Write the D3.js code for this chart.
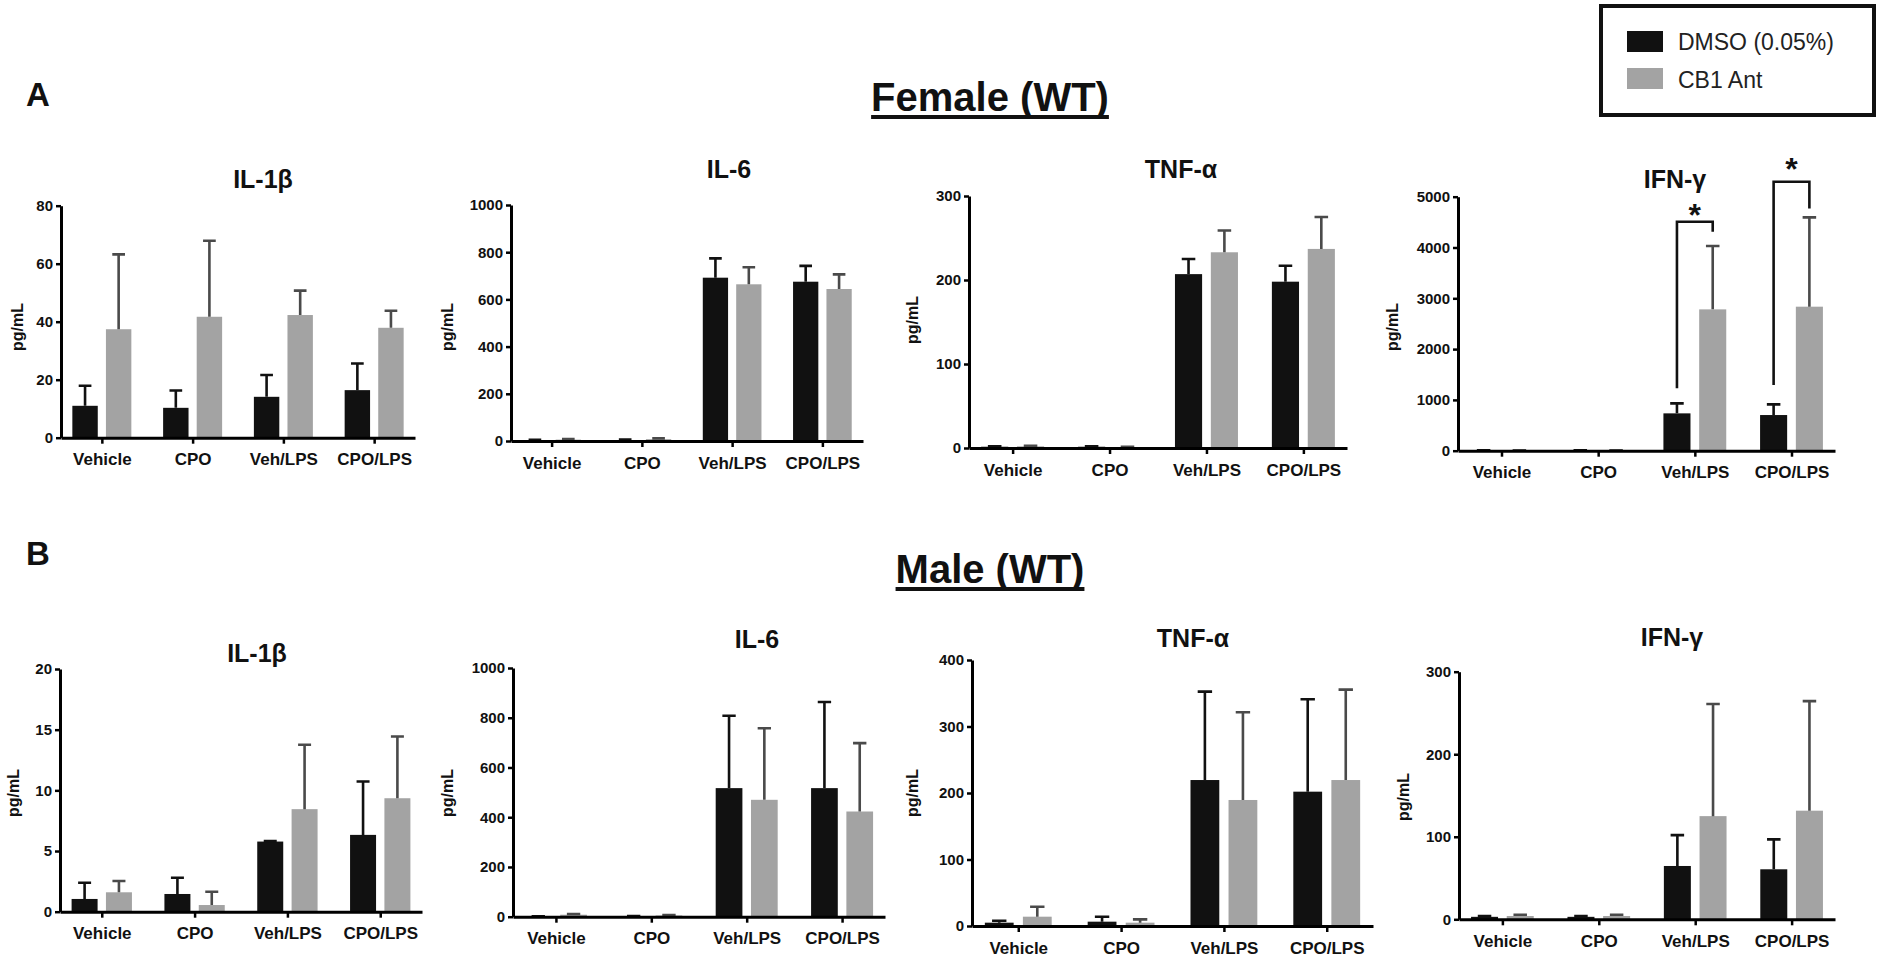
<!DOCTYPE html>
<html><head><meta charset="utf-8">
<script src="https://cdn.jsdelivr.net/npm/d3@7"></script>
<style>
body{margin:0;background:#fff}
svg{display:block}
text{font-family:"Liberation Sans",Arial,Helvetica,sans-serif}
</style>
</head><body>
<svg id="chart" width="1877" height="961"></svg>
<script>
// ---------------- DATA ----------------
const categories = ["Vehicle", "CPO", "Veh/LPS", "CPO/LPS"];
const seriesNames = ["DMSO (0.05%)", "CB1 Ant"];
const cytokines = ["IL-1β", "IL-6", "TNF-α", "IFN-γ"];
const groupTitles = ["Female (WT)", "Male (WT)"];
const groupLetters = ["A", "B"];

// Female (WT) – means and SEM
const femIL1bDMSO = [11.0, 10.3, 14.1, 16.4];
const femIL1bDMSOsem = [6.9, 6.0, 7.5, 9.2];
const femIL1bCB1 = [37.4, 41.7, 42.3, 37.9];
const femIL1bCB1sem = [25.8, 26.2, 8.4, 5.9];

const femIL6DMSO = [3, 4, 692, 675];
const femIL6DMSOsem = [2, 2, 82, 67];
const femIL6CB1 = [6, 8, 664, 644];
const femIL6CB1sem = [2, 3, 72, 62];

const femTNFDMSO = [1.5, 1.5, 207, 198];
const femTNFDMSOsem = [0.5, 0.5, 18, 19];
const femTNFCB1 = [2, 1, 233, 237];
const femTNFCB1sem = [0.5, 0.3, 26, 38];

const femIFNDMSO = [5, 5, 735, 702];
const femIFNDMSOsem = [2, 2, 197, 210];
const femIFNCB1 = [5, 5, 2782, 2835];
const femIFNCB1sem = [2, 2, 1247, 1758];

// Male (WT) – means and SEM
const malIL1bDMSO = [1.05, 1.46, 5.78, 6.33];
const malIL1bDMSOsem = [1.34, 1.34, 0.05, 4.4];
const malIL1bCB1 = [1.6, 0.55, 8.45, 9.35];
const malIL1bCB1sem = [0.93, 1.1, 5.31, 5.09];

const malIL6DMSO = [1, 2, 517, 517];
const malIL6DMSOsem = [1, 1, 291, 346];
const malIL6CB1 = [8, 5, 470, 423];
const malIL6CB1sem = [3, 2, 288, 275];

const malTNFDMSO = [5, 6.5, 219.5, 202];
const malTNFDMSOsem = [3, 7.5, 133, 139];
const malTNFCB1 = [14, 5, 189.5, 219.5];
const malTNFCB1sem = [15, 5, 132, 136];

const malIFNDMSO = [3, 3, 64.6, 60.6];
const malIFNDMSOsem = [1, 1, 37.4, 36.3];
const malIFNCB1 = [4, 4, 125, 131.6];
const malIFNCB1sem = [1.5, 1.5, 135.8, 132.8];

// y-axis tick labels
const ticksFemIL1b = [0, 20, 40, 60, 80];
const ticksFemIL6 = [0, 200, 400, 600, 800, 1000];
const ticksFemTNF = [0, 100, 200, 300];
const ticksFemIFN = [0, 1000, 2000, 3000, 4000, 5000];
const ticksMalIL1b = [0, 5, 10, 15, 20];
const ticksMalIL6 = [0, 200, 400, 600, 800, 1000];
const ticksMalTNF = [0, 100, 200, 300, 400];
const ticksMalIFN = [0, 100, 200, 300];

// significance brackets (data units): leg bottoms, bracket top, star level
const femIFNBrackets = [
  {cat: "Veh/LPS", leftBottom: 1227, top: 4508, rightBottom: 4311, star: 4770, label: "*"},
  {cat: "CPO/LPS", leftBottom: 1293, top: 5295, rightBottom: 4770, star: 5689, label: "*"}
];

// ---------------- LAYOUT / STYLE ----------------
const colors = ["#111111", "#a3a3a3"];
const errColors = ["#111111", "#4a4a4a"];

const layouts = [
  {x0: 61,   x1: 415,  yTop: 205.7, yZero: 437.7, labX: 17,   labY: 327, tx: 263,  ty: 188},
  {x0: 511,  x1: 863,  yTop: 205,   yZero: 441,   labX: 447,  labY: 327, tx: 729,  ty: 178},
  {x0: 969,  x1: 1347, yTop: 196,   yZero: 448,   labX: 912,  labY: 320, tx: 1181, ty: 178},
  {x0: 1458, x1: 1835, yTop: 196.7, yZero: 450.7, labX: 1392, labY: 327, tx: 1675, ty: 188},
  {x0: 60,   x1: 422,  yTop: 669,   yZero: 911.7, labX: 13,   labY: 793, tx: 257,  ty: 662},
  {x0: 513,  x1: 885,  yTop: 668,   yZero: 916.7, labX: 447,  labY: 793, tx: 757,  ty: 648},
  {x0: 972,  x1: 1373, yTop: 660,   yZero: 926,   labX: 912,  labY: 793, tx: 1193, ty: 647},
  {x0: 1459, x1: 1835, yTop: 671.7, yZero: 919.3, labX: 1403, labY: 797, tx: 1672, ty: 646}
];

const panels = [
  {title: cytokines[0], ticks: ticksFemIL1b, means: [femIL1bDMSO, femIL1bCB1], sems: [femIL1bDMSOsem, femIL1bCB1sem]},
  {title: cytokines[1], ticks: ticksFemIL6,  means: [femIL6DMSO, femIL6CB1],   sems: [femIL6DMSOsem, femIL6CB1sem]},
  {title: cytokines[2], ticks: ticksFemTNF,  means: [femTNFDMSO, femTNFCB1],   sems: [femTNFDMSOsem, femTNFCB1sem]},
  {title: cytokines[3], ticks: ticksFemIFN,  means: [femIFNDMSO, femIFNCB1],   sems: [femIFNDMSOsem, femIFNCB1sem], brackets: femIFNBrackets},
  {title: cytokines[0], ticks: ticksMalIL1b, means: [malIL1bDMSO, malIL1bCB1], sems: [malIL1bDMSOsem, malIL1bCB1sem]},
  {title: cytokines[1], ticks: ticksMalIL6,  means: [malIL6DMSO, malIL6CB1],   sems: [malIL6DMSOsem, malIL6CB1sem]},
  {title: cytokines[2], ticks: ticksMalTNF,  means: [malTNFDMSO, malTNFCB1],   sems: [malTNFDMSOsem, malTNFCB1sem]},
  {title: cytokines[3], ticks: ticksMalIFN,  means: [malIFNDMSO, malIFNCB1],   sems: [malIFNDMSOsem, malIFNCB1sem]}
];

const svg = d3.select("#chart");
svg.append("rect").attr("width", 1877).attr("height", 961).attr("fill", "#fff");

function drawPanel(p, L) {
  const g = svg.append("g");
  const x = d3.scalePoint().domain(categories).range([L.x0, L.x1]).padding(0.45);
  const step = x.step();
  const bw = step * 0.28, off = step * 0.185;
  const y = d3.scaleLinear().domain([0, d3.max(p.ticks)]).range([L.yZero, L.yTop]);

  p.means.forEach((vals, si) => {
    const dx = si === 0 ? -off : off;
    const rows = categories.map((c, i) => ({c, v: vals[i], e: p.sems[si][i]}));
    g.append("g").selectAll("rect").data(rows).join("rect")
      .attr("x", d => x(d.c) + dx - bw / 2)
      .attr("y", d => y(d.v))
      .attr("width", bw)
      .attr("height", d => y(0) - y(d.v))
      .attr("fill", colors[si]);
    const eg = g.append("g").attr("stroke", errColors[si]).attr("stroke-width", 2.6).attr("fill", "none");
    eg.selectAll("path").data(rows).join("path")
      .attr("d", d => {
        const cx = x(d.c) + dx;
        const yt = y(d.v + d.e), yb = y(d.v);
        return `M${cx},${yb}V${yt}M${cx - bw * 0.25},${yt}H${cx + bw * 0.25}`;
      });
  });

  // axes
  const yAxis = d3.axisLeft(y).tickValues(p.ticks).tickSize(5).tickSizeOuter(0).tickPadding(3).tickFormat(d3.format("d"));
  const ya = g.append("g").attr("transform", `translate(${L.x0},0)`).call(yAxis);
  ya.select(".domain").attr("stroke", "#000").attr("stroke-width", 3);
  ya.selectAll(".tick line").attr("stroke", "#000").attr("stroke-width", 2.5);
  ya.selectAll(".tick text").attr("font-size", 15).attr("font-weight", "bold").attr("fill", "#111")
    .style("font-family", "'Liberation Sans', Arial, sans-serif");

  const xAxis = d3.axisBottom(x).tickSize(6).tickSizeOuter(0).tickPadding(9.5);
  const xa = g.append("g").attr("transform", `translate(0,${L.yZero})`).call(xAxis);
  xa.select(".domain").attr("stroke", "#000").attr("stroke-width", 3);
  xa.selectAll(".tick line").attr("stroke", "#000").attr("stroke-width", 2.5);
  xa.selectAll(".tick text").attr("font-size", 17).attr("font-weight", "bold").attr("fill", "#111")
    .style("font-family", "'Liberation Sans', Arial, sans-serif");

  // y label
  g.append("text").attr("transform", `translate(${L.labX + 6},${L.labY}) rotate(-90)`)
    .attr("text-anchor", "middle").attr("font-size", 16).attr("font-weight", "bold").attr("fill", "#111")
    .text("pg/mL");

  // title
  g.append("text").attr("x", L.tx).attr("y", L.ty).attr("text-anchor", "middle")
    .attr("font-size", 25).attr("font-weight", "bold").attr("fill", "#111").text(p.title);

  // brackets
  if (p.brackets) {
    p.brackets.forEach(b => {
      const lx = x(b.cat) - off, rx = x(b.cat) + off;
      g.append("path").attr("fill", "none").attr("stroke", "#111").attr("stroke-width", 2.6)
        .attr("d", `M${lx},${y(b.leftBottom)}V${y(b.top)}H${rx}V${y(b.rightBottom)}`);
      g.append("text").attr("x", (lx + rx) / 2).attr("y", y(b.star) + 18).attr("text-anchor", "middle")
        .attr("font-size", 32).attr("font-weight", "bold").attr("fill", "#111").text(b.label);
    });
  }
}

panels.forEach((p, i) => drawPanel(p, layouts[i]));

// group headings
const headings = [
  {letterY: 106, titleY: 111},
  {letterY: 565, titleY: 583}
];
headings.forEach((h, i) => {
  svg.append("text").attr("x", 26).attr("y", h.letterY).attr("font-size", 33).attr("font-weight", "bold")
    .attr("fill", "#111").text(groupLetters[i]);
  const t = svg.append("text").attr("x", 990).attr("y", h.titleY).attr("text-anchor", "middle")
    .attr("font-size", 40).attr("font-weight", "bold").attr("fill", "#111").text(groupTitles[i]);
  const w = t.node().getComputedTextLength();
  svg.append("line").attr("x1", 990 - w / 2).attr("x2", 990 + w / 2)
    .attr("y1", h.titleY + 6).attr("y2", h.titleY + 6).attr("stroke", "#111").attr("stroke-width", 4);
});

// legend
const lg = svg.append("g");
lg.append("rect").attr("x", 1601).attr("y", 6).attr("width", 273).attr("height", 109)
  .attr("fill", "#fff").attr("stroke", "#111").attr("stroke-width", 4);
seriesNames.forEach((s, i) => {
  lg.append("rect").attr("x", 1627).attr("y", 31 + i * 37).attr("width", 36).attr("height", 21).attr("fill", colors[i]);
  lg.append("text").attr("x", 1678).attr("y", 50 + i * 38).attr("font-size", 23).attr("fill", "#222").text(s);
});
</script>
</body></html>
